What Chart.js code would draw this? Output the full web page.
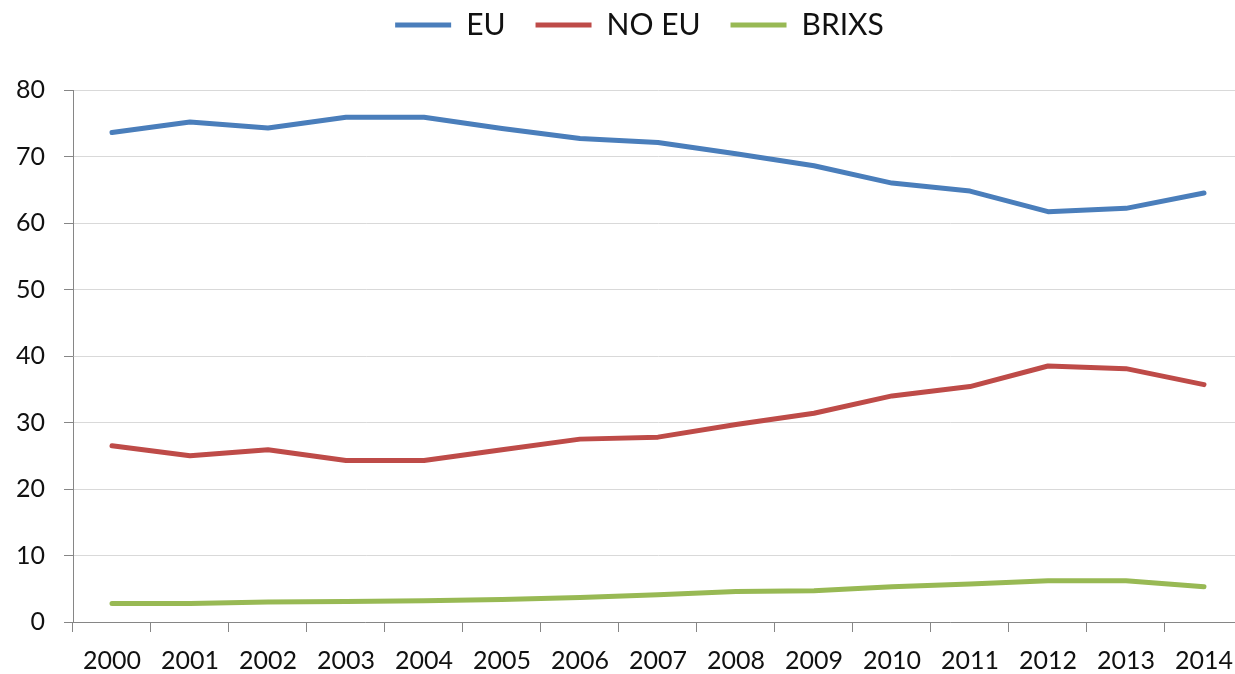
<!DOCTYPE html>
<html>
<head>
<meta charset="utf-8">
<script src="https://cdn.jsdelivr.net/npm/chart.js@4/dist/chart.umd.min.js"></script>
<style>
  html, body { margin: 0; padding: 0; background: #fff; overflow: hidden; width: 1235px; height: 674px; }
  #wrap { width: 1247px; height: 674px; }
</style>
</head>
<body>
<div id="wrap"><canvas id="c" width="1247" height="674"></canvas></div>
<script>
const years = ['2000','2001','2002','2003','2004','2005','2006','2007','2008','2009','2010','2011','2012','2013','2014'];
const euValues = [73.6, 75.2, 74.3, 75.9, 75.9, 74.2, 72.7, 72.1, 70.4, 68.6, 66.0, 64.8, 61.7, 62.2, 64.5];
const noEuValues = [26.5, 25.0, 25.9, 24.3, 24.3, 25.9, 27.5, 27.8, 29.7, 31.4, 34.0, 35.4, 38.5, 38.1, 35.7];
const brixsValues = [2.8, 2.8, 3.0, 3.1, 3.2, 3.4, 3.7, 4.1, 4.6, 4.7, 5.3, 5.7, 6.2, 6.2, 5.3];
const yTicks = [0, 10, 20, 30, 40, 50, 60, 70, 80];

const FONT = 'Lato, "Open Sans", sans-serif';

const legendTweak = {
  id: 'legendTweak',
  beforeLayout(chart) {
    const lg = chart.legend;
    if (lg && !lg._patched) {
      const fit = lg.fit;
      lg.fit = function () { fit.call(this); this.height += 20; };
      lg._patched = true;
    }
  },
  afterLayout(chart) {
    const lg = chart.legend;
    if (lg) { lg.left += 32; lg.top -= 20; }
  }
};

new Chart(document.getElementById('c'), {
  type: 'line',
  data: {
    labels: years,
    datasets: [
      { label: 'EU', data: euValues, borderColor: '#4a7ebb', backgroundColor: '#4a7ebb' },
      { label: 'NO EU', data: noEuValues, borderColor: '#be4b48', backgroundColor: '#be4b48' },
      { label: 'BRIXS', data: brixsValues, borderColor: '#98b954', backgroundColor: '#98b954' }
    ]
  },
  options: {
    responsive: false,
    animation: false,
    layout: { padding: 0 },
    elements: {
      line: { borderWidth: 5, tension: 0, borderCapStyle: 'round', borderJoinStyle: 'round' },
      point: { radius: 0, hoverRadius: 0 }
    },
    plugins: {
      tooltip: { enabled: false },
      legend: {
        position: 'top',
        labels: {
          font: { family: FONT, size: 30 },
          color: '#111',
          boxWidth: 56,
          boxHeight: 5,
          padding: 30,
          generateLabels(chart) {
            return chart.data.datasets.map((d, i) => ({
              text: d.label,
              fillStyle: d.borderColor,
              strokeStyle: d.borderColor,
              lineWidth: 0,
              datasetIndex: i,
              fontColor: '#111'
            }));
          }
        }
      }
    },
    scales: {
      x: {
        type: 'category',
        offset: true,
        grid: {
          offset: true,
          drawOnChartArea: false,
          drawTicks: true,
          tickLength: 10,
          color: '#868686',
          tickColor: '#868686'
        },
        border: { color: '#868686', width: 1 },
        ticks: {
          font: { family: FONT, size: 25 },
          color: '#111',
          padding: 14,
          maxRotation: 0,
          autoSkip: false
        },
        afterFit(scale) { scale.height = 52; }
      },
      y: {
        min: 0,
        max: 80,
        afterBuildTicks(scale) { scale.ticks = yTicks.map(v => ({ value: v })); },
        grid: {
          color: '#d9d9d9',
          tickColor: '#868686',
          tickLength: 9,
          lineWidth: 1
        },
        border: { color: '#868686', width: 1 },
        ticks: {
          font: { family: FONT, size: 25 },
          color: '#111',
          padding: 19
        },
        afterFit(scale) { scale.width = 73; }
      }
    }
  },
  plugins: [legendTweak]
});
</script>
</body>
</html>
